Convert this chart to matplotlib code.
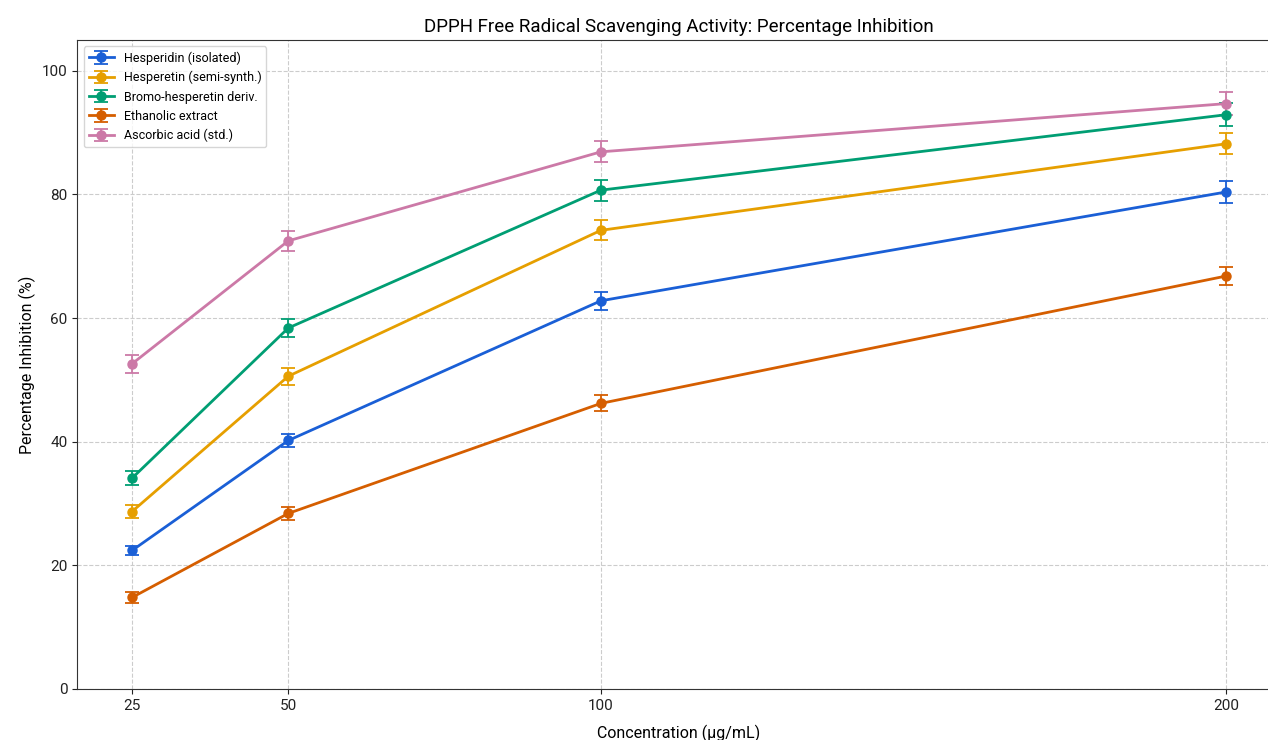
import matplotlib
matplotlib.use("Agg")
import matplotlib.pyplot as plt

plt.rcParams['font.family'] = ['Roboto', 'DejaVu Sans']

conc = [25, 50, 100, 200]

hesperidin = [22.4, 40.2, 62.8, 80.4]
hesperidin_err = [0.8, 1.1, 1.5, 1.7]
hesperetin = [28.7, 50.6, 74.2, 88.2]
hesperetin_err = [1.0, 1.4, 1.6, 1.7]
bromo = [34.1, 58.4, 80.7, 92.9]
bromo_err = [1.1, 1.4, 1.7, 1.9]
ethanolic = [14.8, 28.4, 46.2, 66.8]
ethanolic_err = [0.9, 1.1, 1.3, 1.5]
ascorbic = [52.6, 72.5, 86.9, 94.7]
ascorbic_err = [1.5, 1.6, 1.7, 1.9]

series = [
    ('Hesperidin (isolated)', hesperidin, hesperidin_err, '#1a5fd6'),
    ('Hesperetin (semi-synth.)', hesperetin, hesperetin_err, '#E69F00'),
    ('Bromo-hesperetin deriv.', bromo, bromo_err, '#009E73'),
    ('Ethanolic extract', ethanolic, ethanolic_err, '#D55E00'),
    ('Ascorbic acid (std.)', ascorbic, ascorbic_err, '#CC79A7'),
]

fig = plt.figure(figsize=(12.68, 7.4), dpi=100)
# axes run slightly past the right edge, as in the reference
ax = fig.add_axes([0.061, 0.069, 0.949, 0.877])

for label, vals, errs, color in series:
    ax.errorbar(conc, vals, yerr=errs, label=label, color=color,
                marker='o', markersize=6.5, linewidth=2, capsize=5,
                elinewidth=1.3, capthick=1.3)

ax.set_xticks(conc)
ax.set_xlim(16.25, 208.75)
ax.set_ylim(0, 105)
ax.grid(True, linestyle='--', color='#cccccc', linewidth=0.8)
ax.set_axisbelow(True)
for s in ax.spines.values():
    s.set_color('#333333')
ax.tick_params(labelsize=11, colors='#222222')
ax.set_xlabel('Concentration (µg/mL)', fontsize=11.5, labelpad=9)
ax.set_ylabel('Percentage Inhibition (%)', fontsize=11.5)
ax.set_title('DPPH Free Radical Scavenging Activity: Percentage Inhibition', fontsize=13.5)
ax.legend(loc='upper left', fontsize=9)

fig.savefig('out.png', dpi=100)
